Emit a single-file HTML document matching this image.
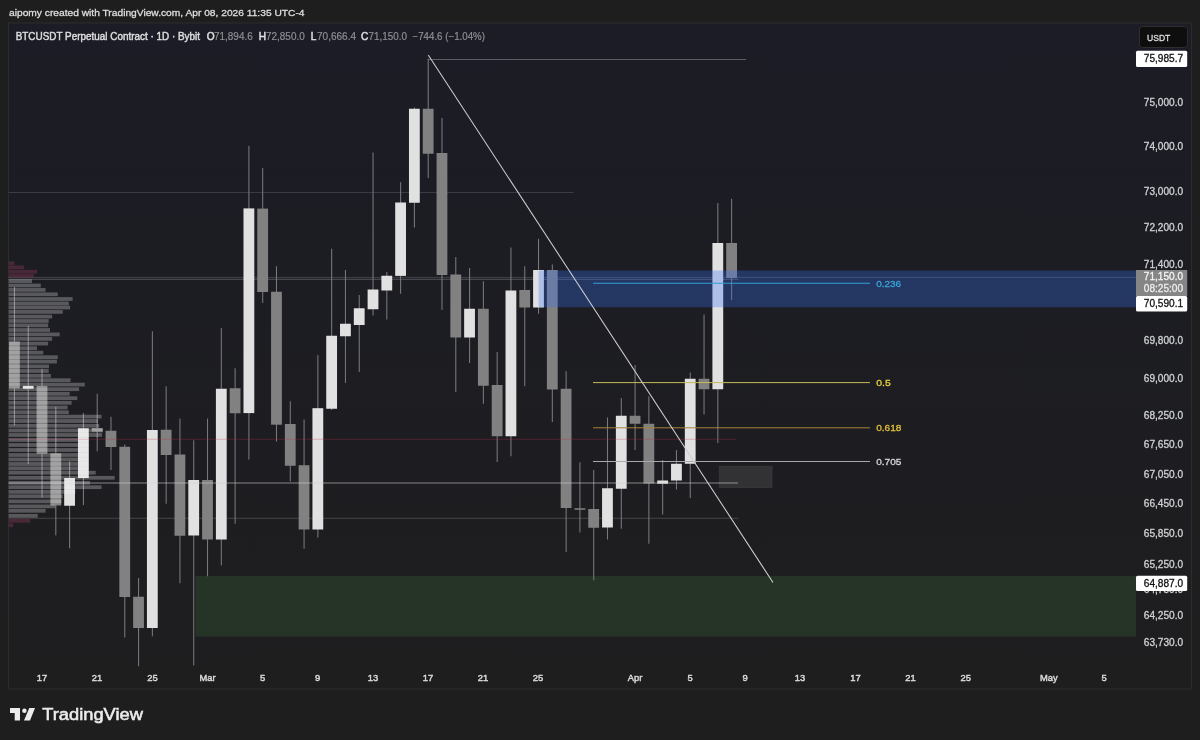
<!DOCTYPE html><html><head><meta charset="utf-8"><style>html,body{margin:0;padding:0;background:#1e1e1e;width:1200px;height:740px;overflow:hidden}svg{display:block;will-change:transform}text{font-family:"Liberation Sans",sans-serif}</style></head><body>
<svg width="1200" height="740" viewBox="0 0 1200 740">
<defs><linearGradient id="bg" x1="0" y1="0" x2="0" y2="1"><stop offset="0" stop-color="#1b1c25"/><stop offset="1" stop-color="#1e1e1f"/></linearGradient><clipPath id="cp"><rect x="8.5" y="23.5" width="1127.5" height="645"/></clipPath></defs>
<rect width="1200" height="740" fill="#1e1e1e"/>
<rect x="8.5" y="23" width="1183" height="666" fill="url(#bg)" stroke="#2c2c2e" stroke-width="1"/>
<g clip-path="url(#cp)">
<rect x="195.5" y="576" width="940.5" height="60.5" fill="#263428"/>
<line x1="8" y1="192.5" x2="573.75" y2="192.5" stroke="#3a3b45" stroke-width="1"/>
<line x1="428.25" y1="59.5" x2="746" y2="59.5" stroke="#5c5d66" stroke-width="1"/>
<line x1="8" y1="518.25" x2="738.5" y2="518.25" stroke="#454547" stroke-width="1"/>
<line x1="8" y1="277.4" x2="1136" y2="277.4" stroke="#5a5a66" stroke-opacity="0.6" stroke-width="1"/>
<line x1="8" y1="279.3" x2="738.5" y2="279.3" stroke="#5a5a62" stroke-opacity="0.85" stroke-width="1"/>
<rect x="13.92" y="287.00" width="1.05" height="138.50" fill="#78787e"/>
<rect x="9.02" y="341.40" width="10.8" height="47.00" fill="#818181"/>
<rect x="27.71" y="326.00" width="1.05" height="138.00" fill="#78787e"/>
<rect x="22.81" y="385.90" width="10.8" height="2.85" fill="#e1e1e1"/>
<rect x="41.50" y="368.75" width="1.05" height="128.75" fill="#78787e"/>
<rect x="36.60" y="385.90" width="10.8" height="67.85" fill="#818181"/>
<rect x="55.29" y="407.00" width="1.05" height="128.40" fill="#78787e"/>
<rect x="50.39" y="453.25" width="10.8" height="52.25" fill="#818181"/>
<rect x="69.08" y="461.25" width="1.05" height="87.00" fill="#78787e"/>
<rect x="64.18" y="478.00" width="10.8" height="27.75" fill="#e1e1e1"/>
<rect x="82.88" y="413.00" width="1.05" height="92.00" fill="#78787e"/>
<rect x="77.98" y="428.25" width="10.8" height="49.75" fill="#e1e1e1"/>
<rect x="96.67" y="393.75" width="1.05" height="57.50" fill="#78787e"/>
<rect x="91.77" y="428.00" width="10.8" height="3.60" fill="#818181"/>
<rect x="110.46" y="416.75" width="1.05" height="53.25" fill="#78787e"/>
<rect x="105.56" y="430.75" width="10.8" height="16.25" fill="#818181"/>
<rect x="124.25" y="444.50" width="1.05" height="193.00" fill="#78787e"/>
<rect x="119.35" y="446.75" width="10.8" height="150.25" fill="#818181"/>
<rect x="138.04" y="578.00" width="1.05" height="88.25" fill="#78787e"/>
<rect x="133.14" y="596.75" width="10.8" height="31.25" fill="#818181"/>
<rect x="151.84" y="331.25" width="1.05" height="305.00" fill="#78787e"/>
<rect x="146.94" y="430.00" width="10.8" height="198.00" fill="#e1e1e1"/>
<rect x="165.63" y="386.25" width="1.05" height="117.50" fill="#78787e"/>
<rect x="160.73" y="429.75" width="10.8" height="25.25" fill="#818181"/>
<rect x="179.42" y="418.50" width="1.05" height="164.75" fill="#78787e"/>
<rect x="174.52" y="454.50" width="10.8" height="81.25" fill="#818181"/>
<rect x="193.21" y="440.25" width="1.05" height="225.25" fill="#78787e"/>
<rect x="188.31" y="480.00" width="10.8" height="55.50" fill="#e1e1e1"/>
<rect x="207.00" y="418.50" width="1.05" height="157.75" fill="#78787e"/>
<rect x="202.10" y="480.00" width="10.8" height="59.50" fill="#818181"/>
<rect x="220.80" y="328.00" width="1.05" height="237.25" fill="#78787e"/>
<rect x="215.90" y="388.75" width="10.8" height="150.75" fill="#e1e1e1"/>
<rect x="234.59" y="368.25" width="1.05" height="155.50" fill="#78787e"/>
<rect x="229.69" y="388.25" width="10.8" height="25.00" fill="#818181"/>
<rect x="248.38" y="145.75" width="1.05" height="313.85" fill="#78787e"/>
<rect x="243.48" y="208.40" width="10.8" height="204.70" fill="#e1e1e1"/>
<rect x="262.17" y="168.00" width="1.05" height="135.00" fill="#78787e"/>
<rect x="257.27" y="208.60" width="10.8" height="83.40" fill="#818181"/>
<rect x="275.96" y="266.25" width="1.05" height="175.25" fill="#78787e"/>
<rect x="271.06" y="291.75" width="10.8" height="132.95" fill="#818181"/>
<rect x="289.76" y="401.25" width="1.05" height="80.25" fill="#78787e"/>
<rect x="284.86" y="424.00" width="10.8" height="41.75" fill="#818181"/>
<rect x="303.55" y="419.50" width="1.05" height="129.25" fill="#78787e"/>
<rect x="298.65" y="465.20" width="10.8" height="64.30" fill="#818181"/>
<rect x="317.34" y="355.00" width="1.05" height="182.50" fill="#78787e"/>
<rect x="312.44" y="408.20" width="10.8" height="121.30" fill="#e1e1e1"/>
<rect x="331.13" y="248.75" width="1.05" height="161.25" fill="#78787e"/>
<rect x="326.23" y="335.75" width="10.8" height="73.00" fill="#e1e1e1"/>
<rect x="344.92" y="270.00" width="1.05" height="113.00" fill="#78787e"/>
<rect x="340.02" y="323.75" width="10.8" height="12.50" fill="#e1e1e1"/>
<rect x="358.72" y="295.00" width="1.05" height="77.00" fill="#78787e"/>
<rect x="353.82" y="308.25" width="10.8" height="16.75" fill="#e1e1e1"/>
<rect x="372.51" y="152.50" width="1.05" height="163.00" fill="#78787e"/>
<rect x="367.61" y="289.50" width="10.8" height="19.75" fill="#e1e1e1"/>
<rect x="386.30" y="272.00" width="1.05" height="47.50" fill="#78787e"/>
<rect x="381.40" y="275.75" width="10.8" height="14.75" fill="#e1e1e1"/>
<rect x="400.09" y="182.25" width="1.05" height="111.50" fill="#78787e"/>
<rect x="395.19" y="202.50" width="10.8" height="73.40" fill="#e1e1e1"/>
<rect x="413.88" y="107.50" width="1.05" height="120.00" fill="#78787e"/>
<rect x="408.98" y="108.75" width="10.8" height="94.00" fill="#e1e1e1"/>
<rect x="427.68" y="58.50" width="1.05" height="119.50" fill="#78787e"/>
<rect x="422.78" y="108.75" width="10.8" height="45.00" fill="#818181"/>
<rect x="441.47" y="118.00" width="1.05" height="192.00" fill="#78787e"/>
<rect x="436.57" y="153.00" width="10.8" height="122.00" fill="#818181"/>
<rect x="455.26" y="257.00" width="1.05" height="135.00" fill="#78787e"/>
<rect x="450.36" y="274.50" width="10.8" height="63.00" fill="#818181"/>
<rect x="469.05" y="268.00" width="1.05" height="95.00" fill="#78787e"/>
<rect x="464.15" y="308.75" width="10.8" height="28.75" fill="#e1e1e1"/>
<rect x="482.84" y="281.25" width="1.05" height="122.50" fill="#78787e"/>
<rect x="477.94" y="308.75" width="10.8" height="77.00" fill="#818181"/>
<rect x="496.64" y="352.00" width="1.05" height="110.00" fill="#78787e"/>
<rect x="491.74" y="385.00" width="10.8" height="51.25" fill="#818181"/>
<rect x="510.43" y="247.50" width="1.05" height="208.75" fill="#78787e"/>
<rect x="505.53" y="290.50" width="10.8" height="145.75" fill="#e1e1e1"/>
<rect x="524.22" y="266.25" width="1.05" height="120.00" fill="#78787e"/>
<rect x="519.32" y="290.00" width="10.8" height="17.50" fill="#818181"/>
<rect x="538.01" y="238.75" width="1.05" height="75.00" fill="#78787e"/>
<rect x="533.11" y="270.00" width="10.8" height="37.50" fill="#e1e1e1"/>
<rect x="551.80" y="264.50" width="1.05" height="157.50" fill="#78787e"/>
<rect x="546.90" y="270.00" width="10.8" height="119.50" fill="#818181"/>
<rect x="565.60" y="371.25" width="1.05" height="180.75" fill="#78787e"/>
<rect x="560.70" y="388.75" width="10.8" height="119.25" fill="#818181"/>
<rect x="579.39" y="462.25" width="1.05" height="70.25" fill="#78787e"/>
<rect x="574.49" y="508.25" width="10.8" height="1.50" fill="#818181"/>
<rect x="593.18" y="470.00" width="1.05" height="110.25" fill="#78787e"/>
<rect x="588.28" y="509.00" width="10.8" height="18.75" fill="#818181"/>
<rect x="606.97" y="417.50" width="1.05" height="122.00" fill="#78787e"/>
<rect x="602.07" y="488.25" width="10.8" height="39.25" fill="#e1e1e1"/>
<rect x="620.76" y="398.00" width="1.05" height="130.75" fill="#78787e"/>
<rect x="615.86" y="415.75" width="10.8" height="73.00" fill="#e1e1e1"/>
<rect x="634.56" y="365.00" width="1.05" height="85.00" fill="#78787e"/>
<rect x="629.66" y="415.75" width="10.8" height="8.00" fill="#818181"/>
<rect x="648.35" y="396.25" width="1.05" height="147.50" fill="#78787e"/>
<rect x="643.45" y="423.75" width="10.8" height="59.75" fill="#818181"/>
<rect x="662.14" y="460.00" width="1.05" height="54.50" fill="#78787e"/>
<rect x="657.24" y="480.50" width="10.8" height="3.25" fill="#e1e1e1"/>
<rect x="675.93" y="450.00" width="1.05" height="39.50" fill="#78787e"/>
<rect x="671.03" y="463.75" width="10.8" height="16.75" fill="#e1e1e1"/>
<rect x="689.72" y="372.50" width="1.05" height="125.50" fill="#78787e"/>
<rect x="684.82" y="378.75" width="10.8" height="85.00" fill="#e1e1e1"/>
<rect x="703.52" y="314.50" width="1.05" height="100.00" fill="#78787e"/>
<rect x="698.62" y="378.75" width="10.8" height="10.50" fill="#818181"/>
<rect x="717.31" y="203.00" width="1.05" height="240.00" fill="#78787e"/>
<rect x="712.41" y="243.00" width="10.8" height="146.25" fill="#e1e1e1"/>
<rect x="731.10" y="198.75" width="1.05" height="101.25" fill="#78787e"/>
<rect x="726.20" y="243.00" width="10.8" height="35.00" fill="#818181"/>
<rect x="719.25" y="466.25" width="52.75" height="21.25" fill="#3a3a3c" fill-opacity="0.75" stroke="#444446" stroke-opacity="0.5" stroke-width="1"/>
<line x1="8" y1="439.25" x2="736" y2="439.25" stroke="rgb(200,45,75)" stroke-opacity="0.3" stroke-width="1"/>
<line x1="8" y1="483" x2="738" y2="483" stroke="#d0d0d0" stroke-opacity="0.4" stroke-width="1.5"/>
<rect x="538.5" y="270.5" width="597.5" height="36.75" fill="rgb(55,115,245)" fill-opacity="0.3"/>
<rect x="8.5" y="261.32" width="5.90" height="3.75" fill="rgba(205,75,115,0.25)"/>
<rect x="8.5" y="265.43" width="15.40" height="3.75" fill="rgba(205,75,115,0.25)"/>
<rect x="8.5" y="269.82" width="28.50" height="3.75" fill="rgba(205,75,115,0.25)"/>
<rect x="8.5" y="273.82" width="25.40" height="3.75" fill="rgba(205,75,115,0.25)"/>
<rect x="8.5" y="279.23" width="23.50" height="3.75" fill="rgba(250,250,255,0.27)"/>
<rect x="8.5" y="283.62" width="32.30" height="3.75" fill="rgba(250,250,255,0.27)"/>
<rect x="8.5" y="288.02" width="37.00" height="3.75" fill="rgba(250,250,255,0.27)"/>
<rect x="8.5" y="292.43" width="49.30" height="3.75" fill="rgba(250,250,255,0.27)"/>
<rect x="8.5" y="297.12" width="64.10" height="3.75" fill="rgba(250,250,255,0.27)"/>
<rect x="8.5" y="301.52" width="60.30" height="3.75" fill="rgba(250,250,255,0.27)"/>
<rect x="8.5" y="305.62" width="61.60" height="3.75" fill="rgba(250,250,255,0.27)"/>
<rect x="8.5" y="310.02" width="54.30" height="3.75" fill="rgba(250,250,255,0.27)"/>
<rect x="8.5" y="314.73" width="43.60" height="3.75" fill="rgba(250,250,255,0.27)"/>
<rect x="8.5" y="319.12" width="40.20" height="3.75" fill="rgba(250,250,255,0.27)"/>
<rect x="8.5" y="323.52" width="39.60" height="3.75" fill="rgba(250,250,255,0.27)"/>
<rect x="8.5" y="328.12" width="41.50" height="3.75" fill="rgba(250,250,255,0.27)"/>
<rect x="8.5" y="332.52" width="51.20" height="3.75" fill="rgba(250,250,255,0.27)"/>
<rect x="8.5" y="337.02" width="43.60" height="3.75" fill="rgba(250,250,255,0.27)"/>
<rect x="8.5" y="341.73" width="39.60" height="3.75" fill="rgba(250,250,255,0.27)"/>
<rect x="8.5" y="346.32" width="28.50" height="3.75" fill="rgba(250,250,255,0.27)"/>
<rect x="8.5" y="350.73" width="34.80" height="3.75" fill="rgba(250,250,255,0.27)"/>
<rect x="8.5" y="355.32" width="49.30" height="3.75" fill="rgba(250,250,255,0.27)"/>
<rect x="8.5" y="359.73" width="48.40" height="3.75" fill="rgba(250,250,255,0.27)"/>
<rect x="8.5" y="364.52" width="40.50" height="3.75" fill="rgba(250,250,255,0.27)"/>
<rect x="8.5" y="369.12" width="40.20" height="3.75" fill="rgba(250,250,255,0.27)"/>
<rect x="8.5" y="373.93" width="42.40" height="3.75" fill="rgba(250,250,255,0.27)"/>
<rect x="8.5" y="378.32" width="62.10" height="3.75" fill="rgba(250,250,255,0.27)"/>
<rect x="8.5" y="382.73" width="76.30" height="3.75" fill="rgba(250,250,255,0.27)"/>
<rect x="8.5" y="387.32" width="70.60" height="3.75" fill="rgba(250,250,255,0.27)"/>
<rect x="8.5" y="391.93" width="61.20" height="3.75" fill="rgba(250,250,255,0.27)"/>
<rect x="8.5" y="396.32" width="68.80" height="3.75" fill="rgba(250,250,255,0.27)"/>
<rect x="8.5" y="400.93" width="63.10" height="3.75" fill="rgba(250,250,255,0.27)"/>
<rect x="8.5" y="405.62" width="59.10" height="3.75" fill="rgba(250,250,255,0.27)"/>
<rect x="8.5" y="410.32" width="60.30" height="3.75" fill="rgba(250,250,255,0.27)"/>
<rect x="8.5" y="414.73" width="93.00" height="3.75" fill="rgba(250,250,255,0.27)"/>
<rect x="8.5" y="419.12" width="89.50" height="3.75" fill="rgba(250,250,255,0.27)"/>
<rect x="8.5" y="423.93" width="90.70" height="3.75" fill="rgba(250,250,255,0.27)"/>
<rect x="8.5" y="428.62" width="94.50" height="3.75" fill="rgba(250,250,255,0.27)"/>
<rect x="8.5" y="433.12" width="93.50" height="3.75" fill="rgba(250,250,255,0.27)"/>
<rect x="8.5" y="438.12" width="80.00" height="3.75" fill="rgba(250,250,255,0.27)"/>
<rect x="8.5" y="443.12" width="80.00" height="3.75" fill="rgba(250,250,255,0.27)"/>
<rect x="8.5" y="448.12" width="80.00" height="3.75" fill="rgba(250,250,255,0.27)"/>
<rect x="8.5" y="453.12" width="80.00" height="3.75" fill="rgba(250,250,255,0.27)"/>
<rect x="8.5" y="457.62" width="80.00" height="3.75" fill="rgba(250,250,255,0.27)"/>
<rect x="8.5" y="462.12" width="80.00" height="3.75" fill="rgba(250,250,255,0.27)"/>
<rect x="8.5" y="466.43" width="80.00" height="3.75" fill="rgba(250,250,255,0.27)"/>
<rect x="8.5" y="470.82" width="87.20" height="3.75" fill="rgba(250,250,255,0.27)"/>
<rect x="8.5" y="475.93" width="106.10" height="3.75" fill="rgba(250,250,255,0.27)"/>
<rect x="8.5" y="480.93" width="81.50" height="3.75" fill="rgba(250,250,255,0.27)"/>
<rect x="8.5" y="485.32" width="93.00" height="3.75" fill="rgba(250,250,255,0.27)"/>
<rect x="8.5" y="490.02" width="66.90" height="3.75" fill="rgba(250,250,255,0.27)"/>
<rect x="8.5" y="494.43" width="54.30" height="3.75" fill="rgba(250,250,255,0.27)"/>
<rect x="8.5" y="499.52" width="53.10" height="3.75" fill="rgba(250,250,255,0.27)"/>
<rect x="8.5" y="504.52" width="46.80" height="3.75" fill="rgba(250,250,255,0.27)"/>
<rect x="8.5" y="508.93" width="37.00" height="3.75" fill="rgba(250,250,255,0.27)"/>
<rect x="8.5" y="513.92" width="29.20" height="3.75" fill="rgba(250,250,255,0.27)"/>
<rect x="8.5" y="518.92" width="21.70" height="3.75" fill="rgba(205,75,115,0.25)"/>
<rect x="8.5" y="523.33" width="4.70" height="3.75" fill="rgba(205,75,115,0.25)"/>
<line x1="593" y1="283.25" x2="870" y2="283.25" stroke="#2f9fd8" stroke-width="1"/>
<line x1="593" y1="382.6" x2="870" y2="382.6" stroke="#c8bb55" stroke-width="1"/>
<line x1="593" y1="427.8" x2="870" y2="427.8" stroke="#a8803a" stroke-width="1"/>
<line x1="593" y1="461.5" x2="870" y2="461.5" stroke="#a9a9ad" stroke-width="1"/>
<text x="876.2" y="286.70" font-size="9.8" fill="#3aa4da" stroke="#3aa4da" stroke-width="0.3" textLength="25" lengthAdjust="spacingAndGlyphs">0.236</text>
<text x="876.2" y="386.10" font-size="9.8" fill="#e6d23c" stroke="#e6d23c" stroke-width="0.3" textLength="14.5" lengthAdjust="spacingAndGlyphs">0.5</text>
<text x="876.2" y="431.30" font-size="9.8" fill="#e4bf3c" stroke="#e4bf3c" stroke-width="0.3" textLength="25.3" lengthAdjust="spacingAndGlyphs">0.618</text>
<text x="876.2" y="465.00" font-size="9.8" fill="#d6d6da" stroke="#d6d6da" stroke-width="0.3" textLength="25.3" lengthAdjust="spacingAndGlyphs">0.705</text>
<line x1="428.25" y1="55" x2="773" y2="582.5" stroke="#cfcfd2" stroke-width="1.05"/>
</g>
<text x="1143.8" y="105.50" font-size="10" fill="#cfd0d3" stroke="#cfd0d3" stroke-width="0.3" textLength="39.3" lengthAdjust="spacingAndGlyphs">75,000.0</text>
<text x="1143.8" y="149.80" font-size="10" fill="#cfd0d3" stroke="#cfd0d3" stroke-width="0.3" textLength="39.3" lengthAdjust="spacingAndGlyphs">74,000.0</text>
<text x="1143.8" y="194.70" font-size="10" fill="#cfd0d3" stroke="#cfd0d3" stroke-width="0.3" textLength="39.3" lengthAdjust="spacingAndGlyphs">73,000.0</text>
<text x="1143.8" y="231.40" font-size="10" fill="#cfd0d3" stroke="#cfd0d3" stroke-width="0.3" textLength="39.3" lengthAdjust="spacingAndGlyphs">72,200.0</text>
<text x="1143.8" y="268.10" font-size="10" fill="#cfd0d3" stroke="#cfd0d3" stroke-width="0.3" textLength="39.3" lengthAdjust="spacingAndGlyphs">71,400.0</text>
<text x="1143.8" y="306.40" font-size="10" fill="#cfd0d3" stroke="#cfd0d3" stroke-width="0.3" textLength="39.3" lengthAdjust="spacingAndGlyphs">70,600.0</text>
<text x="1143.8" y="344.10" font-size="10" fill="#cfd0d3" stroke="#cfd0d3" stroke-width="0.3" textLength="39.3" lengthAdjust="spacingAndGlyphs">69,800.0</text>
<text x="1143.8" y="382.20" font-size="10" fill="#cfd0d3" stroke="#cfd0d3" stroke-width="0.3" textLength="39.3" lengthAdjust="spacingAndGlyphs">69,000.0</text>
<text x="1143.8" y="418.60" font-size="10" fill="#cfd0d3" stroke="#cfd0d3" stroke-width="0.3" textLength="39.3" lengthAdjust="spacingAndGlyphs">68,250.0</text>
<text x="1143.8" y="447.90" font-size="10" fill="#cfd0d3" stroke="#cfd0d3" stroke-width="0.3" textLength="39.3" lengthAdjust="spacingAndGlyphs">67,650.0</text>
<text x="1143.8" y="477.50" font-size="10" fill="#cfd0d3" stroke="#cfd0d3" stroke-width="0.3" textLength="39.3" lengthAdjust="spacingAndGlyphs">67,050.0</text>
<text x="1143.8" y="507.20" font-size="10" fill="#cfd0d3" stroke="#cfd0d3" stroke-width="0.3" textLength="39.3" lengthAdjust="spacingAndGlyphs">66,450.0</text>
<text x="1143.8" y="537.30" font-size="10" fill="#cfd0d3" stroke="#cfd0d3" stroke-width="0.3" textLength="39.3" lengthAdjust="spacingAndGlyphs">65,850.0</text>
<text x="1143.8" y="567.80" font-size="10" fill="#cfd0d3" stroke="#cfd0d3" stroke-width="0.3" textLength="39.3" lengthAdjust="spacingAndGlyphs">65,250.0</text>
<text x="1143.8" y="593.10" font-size="10" fill="#cfd0d3" stroke="#cfd0d3" stroke-width="0.3" textLength="39.3" lengthAdjust="spacingAndGlyphs">64,750.0</text>
<text x="1143.8" y="618.90" font-size="10" fill="#cfd0d3" stroke="#cfd0d3" stroke-width="0.3" textLength="39.3" lengthAdjust="spacingAndGlyphs">64,250.0</text>
<text x="1143.8" y="645.80" font-size="10" fill="#cfd0d3" stroke="#cfd0d3" stroke-width="0.3" textLength="39.3" lengthAdjust="spacingAndGlyphs">63,730.0</text>
<rect x="1139.5" y="26.5" width="48" height="21" rx="3" fill="#0e0e0e" stroke="#2e2e30"/>
<text x="1147" y="40.6" font-size="9.9" fill="#dadada" stroke="#dadada" stroke-width="0.35" textLength="23.3" lengthAdjust="spacingAndGlyphs">USDT</text>
<rect x="1136" y="50.7" width="51.2" height="16.299999999999997" rx="1.5" fill="#ffffff"/>
<text x="1143.8" y="62.45" font-size="10" fill="#131313" stroke="#131313" stroke-width="0.3" textLength="39.3" lengthAdjust="spacingAndGlyphs">75,985.7</text>
<rect x="1136" y="270" width="51.2" height="26" fill="#858585"/>
<text x="1143.8" y="280.20" font-size="10" fill="#f4f4f4" stroke="#f4f4f4" stroke-width="0.3" textLength="39.3" lengthAdjust="spacingAndGlyphs">71,150.0</text>
<text x="1143.8" y="291.90" font-size="10" fill="#ececec" stroke="#ececec" stroke-width="0.3" textLength="39.3" lengthAdjust="spacingAndGlyphs">08:25:00</text>
<rect x="1136" y="296" width="51.2" height="15.5" rx="1.5" fill="#ffffff"/>
<text x="1143.8" y="307.35" font-size="10" fill="#131313" stroke="#131313" stroke-width="0.3" textLength="39.3" lengthAdjust="spacingAndGlyphs">70,590.1</text>
<rect x="1136" y="575.8" width="51.2" height="15.300000000000068" rx="1.5" fill="#ffffff"/>
<text x="1143.8" y="587.05" font-size="10" fill="#131313" stroke="#131313" stroke-width="0.3" textLength="39.3" lengthAdjust="spacingAndGlyphs">64,887.0</text>
<text x="42" y="681.1" font-size="9.4" fill="#dadada" stroke="#dadada" stroke-width="0.45" text-anchor="middle">17</text>
<text x="97" y="681.1" font-size="9.4" fill="#dadada" stroke="#dadada" stroke-width="0.45" text-anchor="middle">21</text>
<text x="152.5" y="681.1" font-size="9.4" fill="#dadada" stroke="#dadada" stroke-width="0.45" text-anchor="middle">25</text>
<text x="207.5" y="681.1" font-size="9.4" fill="#dadada" stroke="#dadada" stroke-width="0.45" text-anchor="middle">Mar</text>
<text x="262.5" y="681.1" font-size="9.4" fill="#dadada" stroke="#dadada" stroke-width="0.45" text-anchor="middle">5</text>
<text x="317.5" y="681.1" font-size="9.4" fill="#dadada" stroke="#dadada" stroke-width="0.45" text-anchor="middle">9</text>
<text x="373" y="681.1" font-size="9.4" fill="#dadada" stroke="#dadada" stroke-width="0.45" text-anchor="middle">13</text>
<text x="428" y="681.1" font-size="9.4" fill="#dadada" stroke="#dadada" stroke-width="0.45" text-anchor="middle">17</text>
<text x="483" y="681.1" font-size="9.4" fill="#dadada" stroke="#dadada" stroke-width="0.45" text-anchor="middle">21</text>
<text x="538" y="681.1" font-size="9.4" fill="#dadada" stroke="#dadada" stroke-width="0.45" text-anchor="middle">25</text>
<text x="635" y="681.1" font-size="9.4" fill="#dadada" stroke="#dadada" stroke-width="0.45" text-anchor="middle">Apr</text>
<text x="690" y="681.1" font-size="9.4" fill="#dadada" stroke="#dadada" stroke-width="0.45" text-anchor="middle">5</text>
<text x="745" y="681.1" font-size="9.4" fill="#dadada" stroke="#dadada" stroke-width="0.45" text-anchor="middle">9</text>
<text x="800" y="681.1" font-size="9.4" fill="#dadada" stroke="#dadada" stroke-width="0.45" text-anchor="middle">13</text>
<text x="855.5" y="681.1" font-size="9.4" fill="#dadada" stroke="#dadada" stroke-width="0.45" text-anchor="middle">17</text>
<text x="910.5" y="681.1" font-size="9.4" fill="#dadada" stroke="#dadada" stroke-width="0.45" text-anchor="middle">21</text>
<text x="965.75" y="681.1" font-size="9.4" fill="#dadada" stroke="#dadada" stroke-width="0.45" text-anchor="middle">25</text>
<text x="1048.75" y="681.1" font-size="9.4" fill="#dadada" stroke="#dadada" stroke-width="0.45" text-anchor="middle">May</text>
<text x="1104" y="681.1" font-size="9.4" fill="#dadada" stroke="#dadada" stroke-width="0.45" text-anchor="middle">5</text>
<text x="9" y="15.9" font-size="9.8" fill="#dedede" stroke="#dedede" stroke-width="0.3" textLength="295.5" lengthAdjust="spacingAndGlyphs">aipomy created with TradingView.com, Apr 08, 2026 11:35 UTC-4</text>
<text x="15.7" y="39.6" font-size="10.1" fill="#dcdcde" stroke="#dcdcde" stroke-width="0.45" textLength="184.3" lengthAdjust="spacingAndGlyphs">BTCUSDT Perpetual Contract · 1D · Bybit</text>
<text x="206.7" y="39.6" font-size="10.1" fill="#e0e0e2" stroke="#e0e0e2" stroke-width="0.45">O</text>
<text x="214" y="39.6" font-size="10.1" fill="#8e8e92" stroke="#8e8e92" stroke-width="0.2" textLength="38.69999999999999" lengthAdjust="spacingAndGlyphs">71,894.6</text>
<text x="258.7" y="39.6" font-size="10.1" fill="#e0e0e2" stroke="#e0e0e2" stroke-width="0.45">H</text>
<text x="266" y="39.6" font-size="10.1" fill="#8e8e92" stroke="#8e8e92" stroke-width="0.2" textLength="38.69999999999999" lengthAdjust="spacingAndGlyphs">72,850.0</text>
<text x="310.7" y="39.6" font-size="10.1" fill="#e0e0e2" stroke="#e0e0e2" stroke-width="0.45">L</text>
<text x="317" y="39.6" font-size="10.1" fill="#8e8e92" stroke="#8e8e92" stroke-width="0.2" textLength="39" lengthAdjust="spacingAndGlyphs">70,666.4</text>
<text x="361" y="39.6" font-size="10.1" fill="#e0e0e2" stroke="#e0e0e2" stroke-width="0.45">C</text>
<text x="368.5" y="39.6" font-size="10.1" fill="#8e8e92" stroke="#8e8e92" stroke-width="0.2" textLength="38.5" lengthAdjust="spacingAndGlyphs">71,150.0</text>
<text x="412.5" y="39.6" font-size="10.1" fill="#8e8e92" stroke="#8e8e92" stroke-width="0.2" textLength="72.5" lengthAdjust="spacingAndGlyphs">−744.6 (−1.04%)</text>
<path d="M10 708 H20 V720.5 H14.7 V713 H10 Z" fill="#ececec"/>
<circle cx="24.4" cy="710.8" r="2.2" fill="#ececec"/>
<path d="M29.3 708 H35 L30 720.5 H24 Z" fill="#ececec"/>
<text x="42.3" y="720.3" font-size="16.8" fill="#ececec" stroke="#ececec" stroke-width="0.55" textLength="100.6" lengthAdjust="spacingAndGlyphs">TradingView</text>
</svg></body></html>
